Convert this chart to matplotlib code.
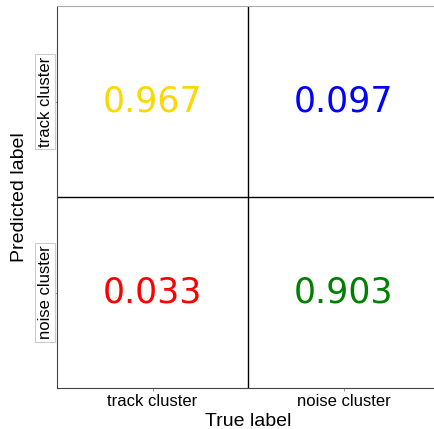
import numpy as np
import matplotlib.pyplot as plt

classes = ['track cluster', 'noise cluster']
# rows = predicted, cols = true
cm = np.array([[0.967, 0.097],
               [0.033, 0.903]])
cell_colors = [['gold', 'blue'],
               ['red', 'green']]

fig = plt.figure(figsize=(4.35, 4.29), dpi=100)
ax = fig.add_axes([57/435, 41/429, 382/435, 382/429])
ax.set_xlim(-0.5, 1.5)
ax.set_ylim(1.5, -0.5)

for i in range(2):
    for j in range(2):
        ax.text(j, i, '%.3f' % cm[i, j], ha='center', va='center',
                fontsize=25, color=cell_colors[i][j], family='DejaVu Sans')

ax.set_xticks(range(2))
ax.set_yticks(range(2))
ax.set_xticklabels(classes, fontsize=12, family='Liberation Sans')
ax.set_yticklabels(classes, fontsize=12, family='Liberation Sans',
                   rotation=90, va='center')
for lab in ax.get_yticklabels():
    lab.set_bbox(dict(boxstyle='square,pad=0.15', fc='white', ec='#cccccc', lw=0.8))
ax.tick_params(length=2, width=0.6, color='#888888', pad=2)
ax.tick_params(axis='y', pad=1)

ax.axvline(0.5, color='black', lw=1)
ax.axhline(0.5, color='black', lw=1)

ax.spines['right'].set_visible(False)
ax.spines['top'].set_color('#aaaaaa')
ax.spines['left'].set_color('#444444')
ax.spines['bottom'].set_color('#444444')

ax.set_xlabel('True label', fontsize=14, family='Liberation Sans', labelpad=3)
ax.set_ylabel('Predicted label', fontsize=14, family='Liberation Sans', labelpad=7)

fig.savefig('out.png', dpi=100)
